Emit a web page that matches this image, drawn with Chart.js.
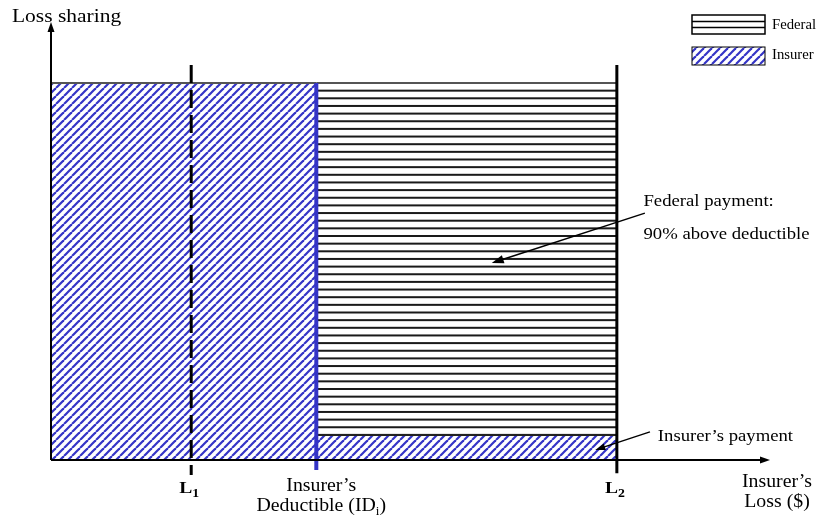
<!DOCTYPE html>
<html>
<head>
<meta charset="utf-8">
<script src="https://cdn.jsdelivr.net/npm/chart.js@4.4.0/dist/chart.umd.min.js"></script>
<style>
  html, body { margin: 0; padding: 0; background: #fff; }
  #wrap { width: 823px; height: 517px; }
</style>
</head>
<body>
<div id="wrap"><canvas id="lossChart"></canvas></div>
<script>
// Loss levels on the x axis (0 = no loss, 100 = end of the axis)
const markerNames = ['L1', 'Deductible', 'L2'];
const markerLoss = [19.5, 36.9, 78.7];
const tickLabels = ['L_1', 'Insurer’s|Deductible (ID_i)', 'L_2'];

// Share levels on the y axis
const coverTop = 85.7;      // top of the sharing boxes
const insurerCopay = 5.7;   // insurer's part above the deductible

// how far the marker lines reach (style only)
const markerTop = [89.8, 85.7, 89.8];
const markerBottom = [-3.4, -2.3, -3.0];

const BLUE = '#3434c6';
const SERIF = '"Liberation Serif", "Times New Roman", serif';

// --- fill patterns ---
function diagonalHatch() {
  const c = document.createElement('canvas');
  c.width = 8; c.height = 8;
  const g = c.getContext('2d');
  g.fillStyle = '#fff';
  g.fillRect(0, 0, 8, 8);
  g.strokeStyle = BLUE;
  g.lineWidth = 2.2;
  [-8, 0, 8].forEach(x0 => {
    g.beginPath();
    g.moveTo(x0, 8);
    g.lineTo(x0 + 8, 0);
    g.stroke();
  });
  return g.createPattern(c, 'repeat');
}

function horizontalHatch(period, count, offset) {
  const c = document.createElement('canvas');
  const h = Math.round(period * count);
  c.width = 4; c.height = h;
  const g = c.getContext('2d');
  g.fillStyle = '#fff';
  g.fillRect(0, 0, 4, h);
  g.fillStyle = '#1a1a1a';
  for (let i = 0; i < count; i++) {
    const yy = (offset + i * period) % h;
    g.fillRect(0, yy - 1, 4, 2);
    if (yy < 1) g.fillRect(0, yy + h - 1, 4, 2);
  }
  return g.createPattern(c, 'repeat');
}

const diag = diagonalHatch();
const horiz = horizontalHatch(7.65, 20, 6.5);

// --- text helper: "_x" = subscript x, stretched a little like the source ---
function richText(ctx, str, x, y, size, opt) {
  opt = opt || {};
  const parts = [];
  for (let i = 0; i < str.length; i++) {
    if (str[i] === '_') { parts.push({ t: str[i + 1], sub: true }); i++; }
    else if (parts.length && !parts[parts.length - 1].sub) parts[parts.length - 1].t += str[i];
    else parts.push({ t: str[i], sub: false });
  }
  const sx = opt.stretch || 1.1;
  const font = s => (opt.bold ? 'bold ' : '') + s + 'px ' + SERIF;
  let w = 0;
  parts.forEach(p => {
    ctx.font = font(p.sub ? Math.round(size * 0.68) : size);
    p.w = ctx.measureText(p.t).width;
    w += p.w;
  });
  ctx.save();
  ctx.translate(x, y);
  ctx.scale(sx, 1);
  let cx = opt.align === 'center' ? -w / 2 : 0;
  ctx.fillStyle = '#000';
  ctx.textAlign = 'left';
  ctx.textBaseline = 'alphabetic';
  parts.forEach(p => {
    ctx.font = font(p.sub ? Math.round(size * 0.68) : size);
    ctx.fillText(p.t, cx, p.sub ? size * 0.22 : 0);
    cx += p.w;
  });
  ctx.restore();
}

function arrow(ctx, x1, y1, x2, y2, head, width) {
  const a = Math.atan2(y2 - y1, x2 - x1);
  ctx.save();
  ctx.strokeStyle = '#000';
  ctx.fillStyle = '#000';
  ctx.lineWidth = width;
  ctx.beginPath();
  ctx.moveTo(x1, y1);
  ctx.lineTo(x2 - Math.cos(a) * head * 0.8, y2 - Math.sin(a) * head * 0.8);
  ctx.stroke();
  ctx.beginPath();
  ctx.moveTo(x2, y2);
  ctx.lineTo(x2 - head * Math.cos(a) + head * 0.35 * Math.sin(a), y2 - head * Math.sin(a) - head * 0.35 * Math.cos(a));
  ctx.lineTo(x2 - head * Math.cos(a) - head * 0.35 * Math.sin(a), y2 - head * Math.sin(a) + head * 0.35 * Math.cos(a));
  ctx.closePath();
  ctx.fill();
  ctx.restore();
}

// axes with arrows, labels, notes and legend
const diagramPlugin = {
  id: 'diagram',
  afterDatasetsDraw(chart) {
    const { ctx, scales: { x, y } } = chart;
    const x0 = x.getPixelForValue(0), y0 = y.getPixelForValue(0);
    const xEnd = x.getPixelForValue(100), yEnd = y.getPixelForValue(100);

    // axes
    ctx.save();
    ctx.strokeStyle = '#000';
    ctx.lineWidth = 2;
    ctx.beginPath();
    ctx.moveTo(x0, y0); ctx.lineTo(x0, yEnd + 8);
    ctx.moveTo(x0, y0); ctx.lineTo(xEnd - 6, y0);
    ctx.stroke();
    ctx.restore();
    arrow(ctx, x0, y0, x0, yEnd + 2, 10, 2);
    arrow(ctx, x0, y0, xEnd, y0, 10, 2);

    // axis titles
    richText(ctx, 'Loss sharing', x0 - 39, yEnd + 2, 19, { stretch: 1.13 });
    richText(ctx, 'Insurer’s', xEnd + 7, y0 + 27, 18, { align: 'center' });
    richText(ctx, 'Loss ($)', xEnd + 7, y0 + 47, 18, { align: 'center' });

    // marker labels under the axis
    tickLabels.forEach((lab, i) => {
      const px = x.getPixelForValue(markerLoss[i]);
      const lines = lab.split('|');
      if (lines.length === 1) {
        richText(ctx, lines[0], px - 2, y0 + 33, 17, { bold: true, align: 'center', stretch: 1.15 });
      } else {
        richText(ctx, lines[0], px + 5, y0 + 31, 18, { align: 'center' });
        richText(ctx, lines[1], px + 5, y0 + 51, 18, { align: 'center' });
      }
    });

    // notes
    const fedX = x.getPixelForValue(82.4);
    richText(ctx, 'Federal payment:', fedX, y.getPixelForValue(57.7), 17);
    richText(ctx, '90% above deductible', fedX, y.getPixelForValue(50.2), 17);
    arrow(ctx, x.getPixelForValue(82.6), y.getPixelForValue(56.1),
          x.getPixelForValue(61.3), y.getPixelForValue(44.8), 12, 1.5);
    richText(ctx, 'Insurer’s payment', x.getPixelForValue(84.4), y.getPixelForValue(4.3), 17);
    arrow(ctx, x.getPixelForValue(83.3), y.getPixelForValue(6.4),
          x.getPixelForValue(75.7), y.getPixelForValue(2.3), 10, 1.5);

    // legend
    ctx.save();
    ctx.fillStyle = '#fff';
    ctx.fillRect(692, 15, 73, 19);
    ctx.strokeStyle = '#000';
    ctx.lineWidth = 1.5;
    ctx.strokeRect(692, 15, 73, 19);
    ctx.beginPath();
    ctx.moveTo(692, 21.5); ctx.lineTo(765, 21.5);
    ctx.moveTo(692, 27.5); ctx.lineTo(765, 27.5);
    ctx.stroke();
    ctx.fillStyle = diag;
    ctx.fillRect(692, 47, 73, 18);
    ctx.lineWidth = 1;
    ctx.strokeRect(692, 47, 73, 18);
    ctx.restore();
    richText(ctx, 'Federal', 772, 29, 14, { stretch: 1.05 });
    richText(ctx, 'Insurer', 772, 59, 14, { stretch: 1.05 });
  }
};

const lineDefaults = { pointRadius: 0, tension: 0 };

new Chart(document.getElementById('lossChart'), {
  type: 'line',
  data: {
    datasets: [
      Object.assign({
        label: 'Insurer',
        data: [{ x: 0, y: coverTop }, { x: markerLoss[1], y: coverTop }],
        fill: 'origin', backgroundColor: diag,
        borderColor: '#555', borderWidth: 2, order: 5
      }, lineDefaults),
      Object.assign({
        label: 'Federal',
        data: [{ x: markerLoss[1], y: coverTop }, { x: markerLoss[2], y: coverTop }],
        fill: { value: insurerCopay }, backgroundColor: horiz,
        borderColor: '#555', borderWidth: 2, order: 5
      }, lineDefaults),
      Object.assign({
        label: 'Insurer’s payment',
        data: [{ x: markerLoss[1], y: insurerCopay }, { x: markerLoss[2], y: insurerCopay }],
        fill: 'origin', backgroundColor: diag,
        borderColor: '#222', borderWidth: 2, order: 4
      }, lineDefaults),
      Object.assign({
        label: markerNames[0],
        data: [{ x: markerLoss[0], y: markerTop[0] }, { x: markerLoss[0], y: markerBottom[0] }],
        borderColor: '#000', borderWidth: 3, borderDash: [18, 7], fill: false, order: 1
      }, lineDefaults),
      Object.assign({
        label: markerNames[1],
        data: [{ x: markerLoss[1], y: markerTop[1] }, { x: markerLoss[1], y: markerBottom[1] }],
        borderColor: BLUE, borderWidth: 4, fill: false, order: 1
      }, lineDefaults),
      Object.assign({
        label: markerNames[2],
        data: [{ x: markerLoss[2], y: markerTop[2] }, { x: markerLoss[2], y: markerBottom[2] }],
        borderColor: '#000', borderWidth: 3, fill: false, order: 1
      }, lineDefaults)
    ]
  },
  options: {
    responsive: true,
    maintainAspectRatio: false,
    animation: false,
    layout: { padding: { left: 51, right: 53, top: 20, bottom: 13 } },
    scales: {
      x: { type: 'linear', min: 0, max: 100, display: false },
      y: { type: 'linear', min: -10, max: 100, display: false }
    },
    plugins: {
      legend: { display: false },
      tooltip: { enabled: false }
    }
  },
  plugins: [diagramPlugin]
});
</script>
</body>
</html>
